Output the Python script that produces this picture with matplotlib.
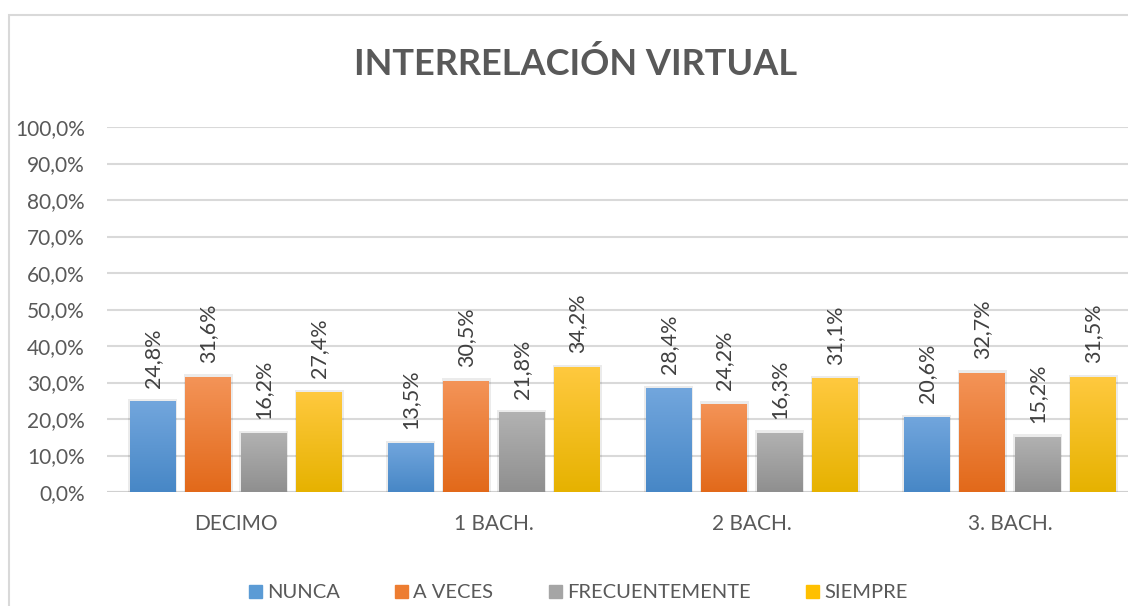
import matplotlib
matplotlib.use("Agg")
import matplotlib.pyplot as plt
import numpy as np
from matplotlib.colors import LinearSegmentedColormap
from matplotlib.patches import Rectangle

categories = ["DECIMO", "1 BACH.", "2 BACH.", "3. BACH."]
series = ["NUNCA", "A VECES", "FRECUENTEMENTE", "SIEMPRE"]
nunca = [24.8, 13.5, 28.4, 20.6]
a_veces = [31.6, 30.5, 24.2, 32.7]
frecuentemente = [16.2, 21.8, 16.3, 15.2]
siempre = [27.4, 34.2, 31.1, 31.5]
values = [nunca, a_veces, frecuentemente, siempre]
yticks = [0, 10, 20, 30, 40, 50, 60, 70, 80, 90, 100]

top_colors = ["#72a6dd", "#f49458", "#b2b2b2", "#ffc93f"]
bot_colors = ["#4787c6", "#e2691a", "#8f8f8f", "#e6b200"]
legend_colors = ["#5b9bd5", "#ed7d31", "#a5a5a5", "#ffc000"]

plt.rcParams['font.family'] = ['Lato', 'DejaVu Sans']
W, H = 1128, 606
fig = plt.figure(figsize=(W / 100, H / 100), dpi=100)

# chart border
fig.patches.append(Rectangle((9 / W, -0.1), 1.2, 1 - 15 / H + 0.1, transform=fig.transFigure,
                             fill=False, edgecolor="#d9d9d9", linewidth=1.5))

left, right = 107 / W, 1139 / W
bottom, top = 1 - 492 / H, 1 - 127 / H
ax = fig.add_axes([left, bottom, right - left, top - bottom])
ax.set_xlim(-0.5, 3.5)
ax.set_ylim(0, 100)

for s in ax.spines.values():
    s.set_visible(False)
ax.set_yticks(yticks)
ax.set_yticklabels([f"{v:.1f}%".replace(".", ",") for v in yticks], fontsize=15, color="#595959")
ax.yaxis.grid(True, color="#d9d9d9", linewidth=1.5)
ax.set_axisbelow(True)
ax.tick_params(axis="y", length=0, pad=16)
ax.tick_params(axis="x", length=0, pad=16)
ax.set_xticks(range(len(categories)))
ax.set_xticklabels(categories, fontsize=15, color="#595959")
ax.axhline(0, color="#d0d0d0", linewidth=1.5, zorder=1)

x = np.arange(len(categories))
step = 0.215
bw = 0.178
grad = np.linspace(1, 0, 256).reshape(-1, 1)
for i, (vals, name) in enumerate(zip(values, series)):
    pos = x + (i - 1.5) * step
    # shadow
    ax.bar(pos, [v + 0.6 for v in vals], width=bw + 0.012, color="#000000", alpha=0.08,
           zorder=2, linewidth=0)
    bars = ax.bar(pos, vals, width=bw, color=legend_colors[i], label=name, zorder=3, linewidth=0)
    cmap = LinearSegmentedColormap.from_list(f"g{i}", [bot_colors[i], top_colors[i]])
    for b, v in zip(bars, vals):
        x0 = b.get_x()
        im = ax.imshow(grad, extent=(x0, x0 + bw, 0, v), aspect="auto", cmap=cmap,
                       origin="upper", zorder=4, interpolation="bicubic")
        im.set_clip_path(b)
        ax.annotate(f"{v:.1f}%".replace(".", ","), (b.get_x() + bw / 2, v),
                    xytext=(0, 10), textcoords="offset points", rotation=90,
                    ha="center", va="bottom", fontsize=15.5, color="#404040", zorder=5)
ax.set_xlim(-0.5, 3.5)
ax.set_ylim(0, 100)

fig.text(576 / W, 1 - 64 / H, "INTERRELACIÓN VIRTUAL", ha="center", va="center",
         fontsize=26, fontweight="bold", color="#595959")

handles = [Rectangle((0, 0), 1, 1, color=c) for c in legend_colors]
fig.legend(handles, series, loc="center", bbox_to_anchor=(578 / W, 1 - 593 / H), ncol=4,
           frameon=False, fontsize=14.5, labelcolor="#595959", handlelength=0.65,
           handleheight=0.65, handletextpad=0.25, columnspacing=2.75)

fig.savefig("out.png", dpi=100)
